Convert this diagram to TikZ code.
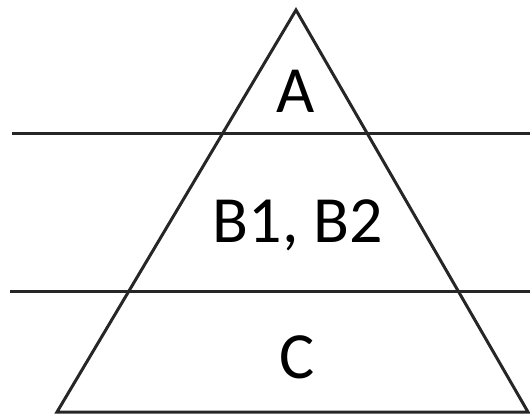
\documentclass[tikz,border=0pt]{standalone}
\usepackage{fontspec}
\setmainfont{Carlito}
\begin{document}
\begin{tikzpicture}[x=1pt,y=-1pt,
  edge/.style={line width=3pt,draw=black!85,line join=miter},
  lbl/.style={anchor=base,inner sep=0pt,font=\fontsize{66}{72}\selectfont}]
\useasboundingbox (0,0) rectangle (530,419);
\coordinate (top) at (296,10);
\coordinate (bl) at (57,412);
\coordinate (br) at (528,412);
\coordinate (l1a) at (12,134);
\coordinate (l1b) at (530,134);
\coordinate (l2a) at (10,292);
\coordinate (l2b) at (530,292);
\draw[edge] (top) -- (br) -- (bl) -- cycle;
\draw[edge] (l1a) -- (l1b);
\draw[edge] (l2a) -- (l2b);
\node[lbl] (a) at (296,113) {A};
\node[lbl] (b) at (298,243) {B1, B2};
\node[lbl] (c) at (297,378) {C};
\end{tikzpicture}
\end{document}
